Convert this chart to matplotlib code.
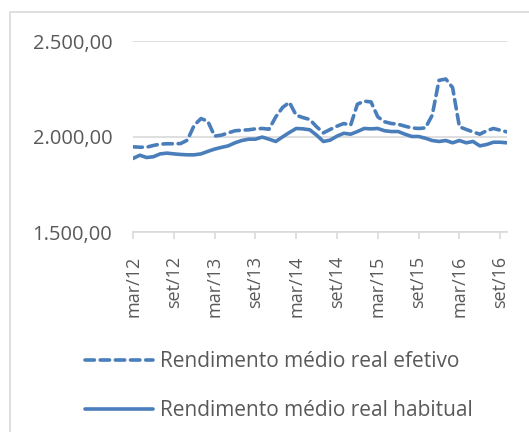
import numpy as np
import matplotlib
matplotlib.use('Agg')
from matplotlib import pyplot as plt
from matplotlib.patches import Rectangle
from matplotlib.ticker import FuncFormatter

# ---------- data (monthly, mar/12 .. out/16) ----------
habitual = [1885, 1902, 1890, 1894, 1909, 1913, 1909, 1906, 1904, 1904,
            1909, 1922, 1934, 1943, 1951, 1967, 1979, 1986, 1986, 1997,
            1986, 1974, 1998, 2021, 2042, 2040, 2035, 2007, 1974, 1981,
            2002, 2017, 2012, 2026, 2042, 2040, 2042, 2030, 2026, 2026,
            2012, 2000, 2000, 1991, 1979, 1974, 1979, 1967, 1979, 1967,
            1974, 1951, 1958, 1970, 1970, 1967]
efetivo = [1946, 1944, 1944, 1953, 1960, 1962, 1962, 1963, 1981, 2059,
           2094, 2080, 2002, 2007, 2019, 2030, 2033, 2035, 2040, 2042,
           2038, 2103, 2152, 2179, 2111, 2099, 2089, 2051, 2019, 2037,
           2054, 2068, 2059, 2169, 2185, 2181, 2103, 2077, 2068, 2064,
           2054, 2045, 2042, 2045, 2111, 2294, 2301, 2256, 2051, 2037,
           2024, 2012, 2030, 2042, 2033, 2024]
tick_labels = ['mar/12', 'set/12', 'mar/13', 'set/13', 'mar/14',
               'set/14', 'mar/15', 'set/15', 'mar/16', 'set/16']
names = ['Rendimento médio real efetivo', 'Rendimento médio real habitual']

plt.rcParams['font.family'] = ['Open Sans', 'DejaVu Sans']
txt = '#595959'
blue = '#4a7ebb'
grid = '#d9d9d9'

fig = plt.figure(figsize=(5.29, 4.32), dpi=100)
fig.patches.append(Rectangle((10 / 529, -0.1), 1.2, 1 - 12 / 432 + 0.1,
                             transform=fig.transFigure, fill=False,
                             edgecolor=grid, linewidth=1.2))

ax = fig.add_axes([133 / 529, 1 - 232 / 432, (507 - 133) / 529, (232 - 41) / 432])
x = np.arange(len(habitual))
ax.plot(x, efetivo, color=blue, lw=2.6, ls=(0, (2.6, 1.6)),
        dash_capstyle='round', label=names[0])
ax.plot(x, habitual, color=blue, lw=2.6, solid_capstyle='round',
        label=names[1])

ax.set_xlim(0, len(habitual) - 1)
ax.set_ylim(1500, 2500)
ax.set_yticks([1500, 2000, 2500])
ax.yaxis.set_major_formatter(FuncFormatter(
    lambda v, p: f'{v:,.2f}'.replace(',', 'X').replace('.', ',').replace('X', '.')))
ax.set_xticks(np.arange(0, 55, 6))
ax.set_xticklabels(tick_labels, rotation=90)

ax.grid(axis='y', color=grid, lw=1.2)
ax.set_axisbelow(True)
for s in ['top', 'right', 'left']:
    ax.spines[s].set_visible(False)
ax.spines['bottom'].set_color(grid)
ax.spines['bottom'].set_linewidth(1.2)
ax.tick_params(axis='y', length=0, pad=15, labelsize=14.5, labelcolor=txt)
ax.tick_params(axis='x', length=5, width=1.2, color=grid, pad=12,
               labelsize=13, labelcolor=txt)

ax.legend(loc='upper left', bbox_to_anchor=(85 / 529, 1 - 351 / 432),
          bbox_transform=fig.transFigure, frameon=False, fontsize=15,
          labelcolor=txt, handlelength=3.27, handletextpad=0.33,
          labelspacing=1.35, borderpad=0, borderaxespad=0)

fig.savefig('out.png', dpi=100)
